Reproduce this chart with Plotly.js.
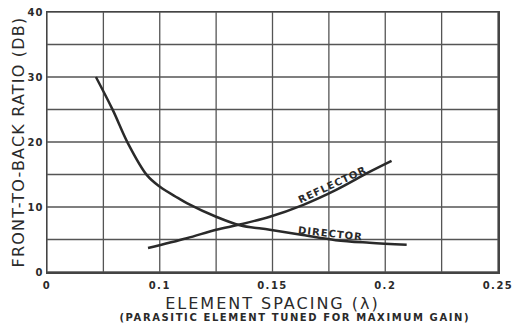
<!DOCTYPE html>
<html>
<head>
<meta charset="utf-8">
<script src="https://cdn.plot.ly/plotly-3.0.1.min.js"></script>
<style>
html,body{margin:0;padding:0;background:#fff;}
#chart .xtitle{letter-spacing:2px;}
#chart .ytitle{letter-spacing:1.2px;}
#chart .xtick text{letter-spacing:1.5px;}
#chart .ytick text{letter-spacing:1px;}
#chart .annotation-text{letter-spacing:1px;}
</style>
</head>
<body>
<div id="chart" style="width:522px;height:330px;"></div>
<script>
const directorX = [0.0717, 0.0792, 0.0859, 0.0943, 0.1001, 0.108, 0.112, 0.125, 0.1355, 0.1488, 0.1634, 0.178, 0.193, 0.2095];
const directorY = [30, 24.9, 19.8, 14.9, 13.1, 11.4, 10.6, 8.5, 7.2, 6.5, 5.7, 4.9, 4.5, 4.2];
const reflectorX = [0.0948, 0.112, 0.125, 0.1355, 0.1488, 0.1634, 0.178, 0.193, 0.2028];
const reflectorY = [3.7, 5.2, 6.5, 7.3, 8.5, 10.3, 12.6, 15.4, 17.1];
const xTickVals = [0.05, 0.1, 0.15, 0.2, 0.25];
const xTickText = ["0", "0.1", "0.15", "0.2", "0.25"];
const yTickVals = [0, 10, 20, 30, 40];
const labels = ["REFLECTOR", "DIRECTOR"];

const font = "DejaVu Sans, Arial, sans-serif";
const ink = "#2a2a2a";

const traces = [
  {x: directorX, y: directorY, mode: "lines", line: {color: ink, width: 2.5, shape: "spline", smoothing: 1}, hoverinfo: "skip"},
  {x: reflectorX, y: reflectorY, mode: "lines", line: {color: ink, width: 2.5, shape: "spline", smoothing: 1}, hoverinfo: "skip"}
];

const layout = {
  width: 522, height: 330,
  margin: {l: 47, r: 24, t: 12, b: 58},
  paper_bgcolor: "#fff", plot_bgcolor: "#fff",
  showlegend: false,
  font: {family: font, color: ink},
  xaxis: {
    range: [0.05, 0.25], tickvals: xTickVals, ticktext: xTickText,
    showgrid: false, zeroline: false,
    showline: true, linecolor: "#444", linewidth: 1.5, mirror: true,
    ticks: "outside", ticklen: 3, tickcolor: "rgba(0,0,0,0)",
    tickfont: {family: font, size: 10, color: ink, weight: "bold"},
    title: {text: "ELEMENT SPACING (λ)", font: {family: font, size: 16, color: ink}, standoff: 8}
  },
  yaxis: {
    range: [0, 40], tickvals: yTickVals, showgrid: false, zeroline: false,
    showline: true, linecolor: "#444", linewidth: 1.5, mirror: true,
    ticks: "", tickfont: {family: font, size: 10, color: ink, weight: "bold"},
    title: {text: "FRONT-TO-BACK RATIO (DB)", font: {family: font, size: 16, color: ink}, standoff: 1}
  },
  shapes: [],
  annotations: [
    {x: 0.1767, y: 13.4, xref: "x", yref: "y", text: "<b>" + labels[0] + "</b>", showarrow: false, textangle: -25, font: {family: font, size: 10, color: ink}},
    {x: 0.1758, y: 5.9, xref: "x", yref: "y", text: "<b>" + labels[1] + "</b>", showarrow: false, textangle: 6, font: {family: font, size: 10, color: ink}},
    {x: 0.55, y: 0, xref: "paper", yref: "paper", xanchor: "center", yanchor: "middle", yshift: -45, text: "<b>(PARASITIC ELEMENT TUNED FOR MAXIMUM GAIN)</b>", showarrow: false, font: {family: font, size: 10, color: ink}}
  ]
};

// grid lines built from axis scales
for (let i = 0; i <= 8; i++) {
  const xv = 0.05 + i * 0.025;
  layout.shapes.push({type: "line", xref: "x", yref: "paper", x0: xv, x1: xv, y0: 0, y1: 1, line: {color: "#555", width: 1.3}, layer: "below"});
}
for (let j = 0; j <= 8; j++) {
  const yv = j * 5;
  layout.shapes.push({type: "line", xref: "paper", yref: "y", x0: 0, x1: 1, y0: yv, y1: yv, line: {color: "#555", width: 1.3}, layer: "below"});
}

Plotly.newPlot("chart", traces, layout, {staticPlot: true}).then(function () {
  const anns = document.querySelectorAll("#chart .annotation-text");
  if (anns[2]) anns[2].style.letterSpacing = "1.6px";
});
</script>
</body>
</html>
